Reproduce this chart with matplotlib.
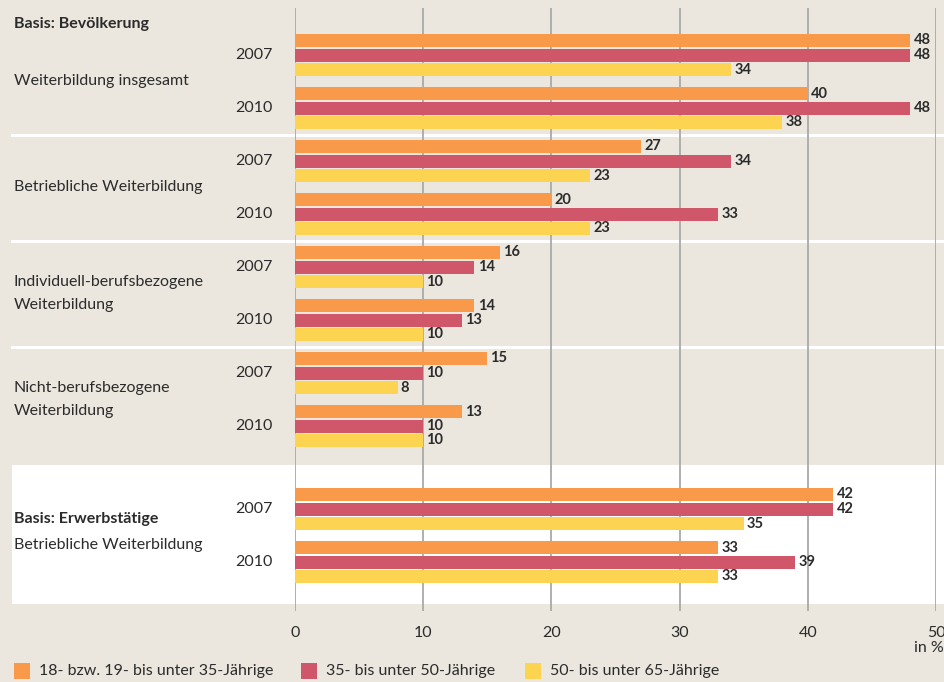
import matplotlib.pyplot as plt
import matplotlib.transforms as mtransforms
from matplotlib.patches import Rectangle

# Weiterbildungsbeteiligung nach Altersgruppen, in %
sections = [
    "Weiterbildung insgesamt",
    "Betriebliche Weiterbildung",
    "Individuell-berufsbezogene\nWeiterbildung",
    "Nicht-berufsbezogene\nWeiterbildung",
    "Betriebliche Weiterbildung",
]
years = ["2007", "2010"]
series = [
    "18- bzw. 19- bis unter 35-Jährige",
    "35- bis unter 50-Jährige",
    "50- bis unter 65-Jährige",
]
# values[section][year] = (18-35, 35-50, 50-65)
values = [
    [(48, 48, 34), (40, 48, 38)],
    [(27, 34, 23), (20, 33, 23)],
    [(16, 14, 10), (14, 13, 10)],
    [(15, 10, 8), (13, 10, 10)],
    [(42, 42, 35), (33, 39, 33)],
]
xticks = [0, 10, 20, 30, 40, 50]

colors = ["#f89a4a", "#d0576a", "#fdd452"]
bg = "#ebe7de"
text_col = "#2b2b2b"
font = "Lato"

W, H = 945, 682
fig = plt.figure(figsize=(W / 100, H / 100), dpi=100, facecolor=bg)
ax = fig.add_axes([295 / W, 1 - 611 / H, (936 - 295) / W, (611 - 8) / H])
ax.set_facecolor("none")

# vertical layout (units ~ pixels)
first = 40.5
bar_pitch = 14.5
year_pitch = 53
section_pitch = 106
extra_gap = 30  # gap before the "Erwerbstätige" block
bar_h = 13


def section_top(s):
    return first + s * section_pitch + (extra_gap if s == 4 else 0)


blend = mtransforms.blended_transform_factory(fig.transFigure, ax.transData)

for s, sec in enumerate(values):
    for j, vals in enumerate(sec):
        y0 = section_top(s) + j * year_pitch
        for k, v in enumerate(vals):
            y = y0 + k * bar_pitch
            ax.barh(y, v, height=bar_h, color=colors[k], zorder=3)
            ax.text(v + 0.25, y, str(v), va="center", ha="left", fontsize=10.5,
                    fontweight="bold", color=text_col, family=font, zorder=4)
        ax.text(273 / W, y0 + bar_pitch, years[j], transform=blend, ha="right",
                va="center", fontsize=11.5, color=text_col, family=font)

# white separators between the sections
for s in range(1, 4):
    ysep = (section_top(s - 1) + year_pitch + 2 * bar_pitch + section_top(s)) / 2
    ax.plot([12 / W, 1], [ysep, ysep], transform=blend, color="white", lw=2.2,
            clip_on=False, zorder=1)

# white box behind the last block
box_top = section_top(4) - 29.5
box = Rectangle((12 / W, box_top), 1 - 12 / W, 139, transform=blend,
                facecolor="white", edgecolor="none", clip_on=False, zorder=0)
ax.add_patch(box)

# section labels
for s in range(4):
    y = section_top(s) + (year_pitch + 2 * bar_pitch) / 2
    ax.text(14 / W, y, sections[s], transform=blend, ha="left", va="center",
            fontsize=11.5, color=text_col, family=font, linespacing=1.85)
ax.text(14 / W, 24, "Basis: Bevölkerung", transform=blend, ha="left",
        va="center", fontsize=11.5, fontweight="bold", color=text_col, family=font)
ax.text(14 / W, section_top(4) + 25, "Basis: Erwerbstätige", transform=blend,
        ha="left", va="center", fontsize=11.5, fontweight="bold", color=text_col,
        family=font)
ax.text(14 / W, section_top(4) + 50, sections[4], transform=blend, ha="left",
        va="center", fontsize=11.5, color=text_col, family=font)

ax.set_xlim(0, 50)
ax.set_ylim(611, 8)
ax.set_xticks(xticks)
ax.set_yticks([])
ax.grid(axis="x", color="#a9a9a9", lw=1.3, zorder=2)
ax.set_axisbelow(False)
for sp in ax.spines.values():
    sp.set_visible(False)
ax.tick_params(axis="x", length=0, pad=11, labelsize=11.5, labelcolor=text_col)
for lab in ax.get_xticklabels():
    lab.set_family(font)
fig.text(944 / W, 1 - 648 / H, "in %", ha="right", va="center", fontsize=11.5,
         color=text_col, family=font)

# legend row
leg_x = [14, 301, 525]
for k, name in enumerate(series):
    fig.patches.append(Rectangle((leg_x[k] / W, 1 - 679 / H), 16 / W, 16 / H,
                                 transform=fig.transFigure, facecolor=colors[k],
                                 edgecolor="none"))
    fig.text((leg_x[k] + 25) / W, 1 - 671 / H, name, ha="left", va="center",
             fontsize=11.5, color=text_col, family=font)

fig.savefig("out.png", dpi=100, facecolor=bg)
